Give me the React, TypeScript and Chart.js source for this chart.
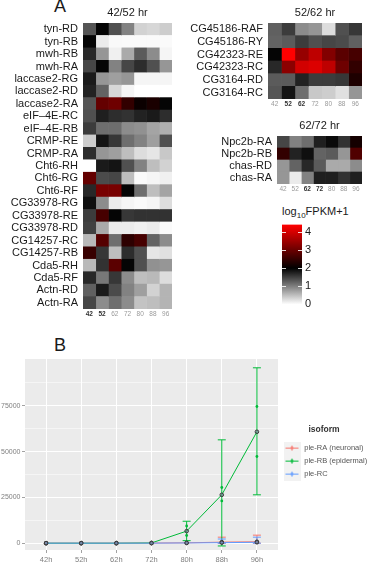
import React, { useEffect, useRef } from 'react';
import { Chart, registerables } from 'chart.js';

Chart.register(...registerables);

const FONT = '"Liberation Sans", Arial, Helvetica, sans-serif';
Chart.defaults.font.family = FONT;

// ---- Panel A: isoform expression heatmaps, log10(FPKM+1) ----
const hours = ['42', '52', '62', '72', '80', '88', '96'];

const rows4252 = [
  'tyn-RD', 'tyn-RB', 'mwh-RB', 'mwh-RA', 'laccase2-RG', 'laccase2-RD', 'laccase2-RA',
  'eIF\u20134E-RC', 'eIF\u20134E-RB', 'CRMP-RE', 'CRMP-RA', 'Cht6-RH', 'Cht6-RG', 'Cht6-RF',
  'CG33978-RG', 'CG33978-RE', 'CG33978-RD', 'CG14257-RC', 'CG14257-RB', 'Cda5-RH', 'Cda5-RF',
  'Actn-RD', 'Actn-RA',
];
const fpkm4252 = [
  [1.33, 1.96, 1.37, 0.98, 0.35, 0.31, 0.39],
  [1.96, 0.16, 0.05, 0.04, 0.04, 0.04, 0.04],
  [1.69, 0.82, 0.12, 0.67, 1.29, 0.9, 0.08],
  [1.45, 1.96, 0.98, 1.45, 1.65, 1.37, 0.82],
  [1.8, 0.82, 0.75, 0.82, 0.08, 0.08, 0.08],
  [1.73, 1.22, 0.31, 0.08, 0, 0, 0],
  [1.33, 2.94, 3.04, 2.47, 2.1, 2.24, 1.96],
  [1.37, 1.76, 1.65, 1.61, 1.73, 1.8, 1.65],
  [1.53, 1.14, 1.14, 0.9, 0.86, 0.71, 0.63],
  [0.39, 1.84, 1.57, 1.14, 0.98, 0.75, 1.37],
  [1.65, 0.82, 0.75, 0.51, 0.27, 0.2, 0.43],
  [0, 1.8, 1.84, 1.37, 0.98, 0.51, 0.35],
  [2.94, 1.41, 1.45, 0.51, 0.04, 0.08, 0.12],
  [1.69, 3.13, 3.13, 1.96, 1.14, 0.51, 0.71],
  [1.88, 0.9, 0.16, 0.08, 0.04, 0.08, 0.27],
  [1.53, 2.66, 1.96, 1.57, 1.61, 1.61, 1.61],
  [1.49, 0.67, 0.16, 0.16, 0.12, 0.16, 0.04],
  [0.55, 2.8, 1.14, 2.42, 2.66, 1.22, 0.9],
  [2.52, 1.57, 0.51, 1.65, 1.37, 0.2, 0.24],
  [0.55, 1.61, 2.85, 1.96, 1.37, 0.86, 0.82],
  [1.69, 1.06, 1.57, 0.9, 0.51, 0.55, 0.27],
  [1.25, 1.8, 1.41, 0.98, 0.75, 0.35, 0.59],
  [1.45, 0.9, 1.14, 0.9, 0.47, 0.51, 0.59],
];

const rows5262 = ['CG45186-RAF', 'CG45186-RY', 'CG42323-RE', 'CG42323-RC', 'CG3164-RD', 'CG3164-RC'];
const fpkm5262 = [
  [1.25, 1.53, 0.9, 0.82, 0.27, 1.37, 1.57],
  [1.22, 1.29, 1.53, 1.37, 1.45, 1.41, 1.25],
  [1.96, 4.4, 3.41, 3.79, 3.22, 2.85, 2.66],
  [1.69, 3.32, 3.98, 4.07, 3.79, 3.04, 2.47],
  [1.29, 1.29, 1.73, 1.53, 1.53, 1.57, 2.28],
  [1.33, 1.84, 1.14, 0.43, 0.39, 0.24, 0.82],
];

const rows6272 = ['Npc2b-RA', 'Npc2b-RB', 'chas-RD', 'chas-RA'];
const fpkm6272 = [
  [1.45, 0.98, 1.14, 1.76, 1.92, 1.61, 2.19],
  [2.47, 1.73, 1.88, 1.22, 1.29, 0.82, 2.75],
  [0.82, 1.22, 1.69, 1.29, 0.67, 0.67, 0.9],
  [0.82, 0.16, 0.98, 1.76, 1.76, 1.61, 1.76],
];

// colour scale: white -> black -> red
const scaleBreaks = [0, 2, 4.4];
const scaleColors = [[255, 255, 255], [0, 0, 0], [255, 0, 0]];
const scaleTicks = [0, 1, 2, 3, 4];

// ---- Panel B: ple isoform expression over time ----
const timeLabels = ['42h', '52h', '62h', '72h', '80h', '88h', '96h'];
const countMajor = [0, 25000, 50000, 75000];
const countMinor = [12500, 37500, 62500, 87500];

const isoformNames = ['ple-RA (neuronal)', 'ple-RB (epidermal)', 'ple-RC'];
const isoformColors = ['#F8766D', '#00BA38', '#619CFF'];

const raMean = [50, 50, 50, 80, 200, 600, 800];
const rbMean = [0, 0, 0, 150, 6600, 26400, 60800];
const rcMean = [50, 50, 50, 50, 150, 300, 500];

const raLow = [null, null, null, null, null, 0, 0];
const raHigh = [null, null, null, null, null, 3300, 4400];
const rbLow = [null, null, null, null, 1400, -1500, 26400];
const rbHigh = [null, null, null, null, 12000, 56400, 95700];
const rcLow = [null, null, null, null, null, 0, 0];
const rcHigh = [null, null, null, null, null, 2300, 3300];

const rbRep1 = [null, null, null, null, 9400, 30400, 74600];
const rbRep2 = [null, null, null, null, 4200, 23100, 47300];

function heatColor(v: number): string {
  let k = 0;
  while (k < scaleBreaks.length - 2 && v > scaleBreaks[k + 1]) k++;
  const a = scaleBreaks[k];
  const b = scaleBreaks[k + 1];
  const t = Math.max(0, Math.min(1, (v - a) / (b - a)));
  const c0 = scaleColors[k];
  const c1 = scaleColors[k + 1];
  const c = c0.map((x, i) => Math.round(x + (c1[i] - x) * t));
  return `rgb(${c[0]},${c[1]},${c[2]})`;
}

function heatmapConfig(title: string, rows: string[], values: number[][], boldCols: number[], labelWidth: number) {
  return {
    type: 'bar',
    data: {
      labels: rows,
      datasets: hours.map((h, j) => ({
        label: h,
        data: rows.map(() => [j, j + 1]),
        backgroundColor: values.map((r) => heatColor(r[j])),
        borderWidth: 0,
        grouped: false,
        barPercentage: 1,
        categoryPercentage: 1,
      })),
    },
    options: {
      indexAxis: 'y',
      animation: false,
      responsive: false,
      devicePixelRatio: 1,
      events: [],
      layout: { padding: 0 },
      plugins: {
        legend: { display: false },
        tooltip: { enabled: false },
        title: {
          display: true,
          text: title,
          fullSize: false,
          color: '#1a1a1a',
          font: { size: 11, weight: 'normal' },
          padding: { top: 6, bottom: 3.8 },
        },
      },
      scales: {
        y: {
          grid: { display: false, drawTicks: false },
          border: { display: false },
          ticks: { autoSkip: false, padding: 5, color: '#1a1a1a', font: { size: 11 } },
          afterFit: (s: any) => { s.width = labelWidth; },
        },
        x: {
          type: 'linear',
          min: 0,
          max: hours.length,
          grid: { display: false, drawTicks: false },
          border: { display: false },
          afterBuildTicks: (s: any) => { s.ticks = hours.map((_, j) => ({ value: j + 0.5 })); },
          ticks: {
            autoSkip: false,
            maxRotation: 0,
            padding: 1,
            callback: (_v: any, i: number) => hours[i],
            color: (c: any) => (boldCols.includes(c.index) ? '#333333' : '#9a9a9a'),
            font: (c: any) => ({ size: 6.5, weight: boldCols.includes(c.index) ? 'bold' : 'normal' }),
          },
          afterFit: (s: any) => { s.height = 12; },
        },
      },
    },
  };
}

function colorbarConfig() {
  const top = scaleBreaks[scaleBreaks.length - 1];
  const tickMarks = {
    id: 'barTicks',
    afterDatasetsDraw(chart: any) {
      const { ctx, chartArea, scales } = chart;
      ctx.save();
      ctx.strokeStyle = 'rgba(255,255,255,0.85)';
      ctx.lineWidth = 1;
      scaleTicks.forEach((v) => {
        const y = Math.round(scales.y.getPixelForValue(v)) + 0.5;
        ctx.beginPath();
        ctx.moveTo(chartArea.left, y);
        ctx.lineTo(chartArea.left + 4, y);
        ctx.moveTo(chartArea.right - 4, y);
        ctx.lineTo(chartArea.right, y);
        ctx.stroke();
      });
      ctx.restore();
    },
  };
  return {
    type: 'bar',
    data: {
      labels: [''],
      datasets: [
        {
          data: [[0, top]],
          borderWidth: 0,
          barPercentage: 1,
          categoryPercentage: 1,
          backgroundColor: (c: any) => {
            const chart = c.chart;
            const ys = chart.scales && chart.scales.y;
            if (!ys || !chart.chartArea) return '#000';
            const y0 = ys.getPixelForValue(0);
            const y1 = ys.getPixelForValue(top);
            const g = chart.ctx.createLinearGradient(0, y0, 0, y1);
            scaleBreaks.forEach((b, i) => {
              const col = scaleColors[i];
              g.addColorStop(b / top, `rgb(${col[0]},${col[1]},${col[2]})`);
            });
            return g;
          },
        },
      ],
    },
    options: {
      animation: false,
      responsive: false,
      devicePixelRatio: 1,
      events: [],
      layout: { padding: { top: 7, bottom: 7, left: 0, right: 0 } },
      plugins: { legend: { display: false }, tooltip: { enabled: false } },
      scales: {
        x: { display: false },
        y: {
          position: 'right',
          min: 0,
          max: top,
          grid: { display: false, drawTicks: false },
          border: { display: false },
          afterBuildTicks: (s: any) => { s.ticks = scaleTicks.map((v) => ({ value: v })); },
          ticks: { padding: 3, color: '#1a1a1a', font: { size: 11 }, callback: (v: any) => String(v) },
          afterFit: (s: any) => { s.width = 20; },
        },
      },
    },
    plugins: [tickMarks],
  };
}

function points(vals: (number | null)[]) {
  return vals.map((y, i) => ({ x: i, y }));
}

function errorBarPoints(low: (number | null)[], high: (number | null)[]) {
  const out: { x: number; y: number | null }[] = [];
  low.forEach((lo, i) => {
    const hi = high[i];
    if (lo === null || hi === null) return;
    out.push({ x: i, y: lo }, { x: i, y: hi }, { x: i, y: null });
  });
  return out;
}

function legendKey(color: string) {
  const c = document.createElement('canvas');
  c.width = 17;
  c.height = 13;
  const g = c.getContext('2d')!;
  g.fillStyle = '#F2F2F2';
  g.fillRect(0, 0, 17, 13);
  g.strokeStyle = color;
  g.lineWidth = 1;
  g.beginPath();
  g.moveTo(2, 6.5);
  g.lineTo(15, 6.5);
  g.moveTo(8.5, 4);
  g.lineTo(8.5, 9);
  g.stroke();
  g.fillStyle = color;
  g.beginPath();
  g.arc(8.5, 6.5, 1.4, 0, Math.PI * 2);
  g.fill();
  return c;
}

function lineConfig() {
  const means = [raMean, rbMean, rcMean];
  const lows = [raLow, rbLow, rcLow];
  const highs = [raHigh, rbHigh, rcHigh];
  const drawOrder = [2, 1, 0];
  const keys = isoformColors.map(legendKey);
  const yTicks = [...countMajor, ...countMinor].sort((a, b) => a - b);
  const isMajor = (v: number) => countMajor.includes(v);

  const panelBg = {
    id: 'panelBg',
    beforeDraw(chart: any) {
      const { ctx, chartArea: a } = chart;
      ctx.save();
      ctx.fillStyle = '#EBEBEB';
      ctx.fillRect(a.left, a.top, a.right - a.left, a.bottom - a.top);
      ctx.restore();
    },
  };

  const datasets: any[] = [];
  means.forEach((m, k) => {
    datasets.push({
      label: isoformNames[k],
      data: points(m),
      borderColor: isoformColors[k],
      borderWidth: 1,
      pointStyle: 'circle',
      pointRadius: 1.8,
      pointBorderColor: '#3a3a3a',
      pointBackgroundColor: 'rgba(120,128,155,0.6)',
      pointBorderWidth: 1,
      order: drawOrder[k],
    });
  });
  means.forEach((_m, k) => {
    datasets.push({
      label: isoformNames[k] + ' sd',
      data: errorBarPoints(lows[k], highs[k]),
      borderColor: isoformColors[k],
      borderWidth: 1,
      pointStyle: 'line',
      pointRadius: 4,
      pointBorderColor: isoformColors[k],
      pointBorderWidth: 1,
      spanGaps: false,
      order: 5 + drawOrder[k],
    });
  });
  [rbRep1, rbRep2].forEach((rep, r) => {
    datasets.push({
      label: 'ple-RB replicate ' + (r + 1),
      data: points(rep),
      showLine: false,
      pointRadius: 1.4,
      pointBackgroundColor: isoformColors[1],
      pointBorderWidth: 0,
      order: 4,
    });
  });

  return {
    type: 'line',
    data: { datasets },
    options: {
      animation: false,
      responsive: false,
      devicePixelRatio: 1,
      events: [],
      layout: { padding: { top: 9, left: 0, right: 0, bottom: 0 } },
      plugins: {
        tooltip: { enabled: false },
        legend: {
          display: true,
          position: 'right',
          align: 'center',
          fullSize: false,
          maxWidth: 92,
          title: {
            display: true,
            text: 'isoform',
            color: '#333333',
            font: { size: 8.5, weight: 'bold' },
            padding: { top: 0, bottom: 3 },
          },
          labels: {
            usePointStyle: true,
            pointStyleWidth: 17,
            padding: 5.5,
            color: '#555555',
            font: { size: 7.5 },
            generateLabels: () =>
              isoformNames.map((name, i) => ({
                text: name,
                pointStyle: keys[i],
                fillStyle: isoformColors[i],
                strokeStyle: isoformColors[i],
                lineWidth: 0,
                hidden: false,
                datasetIndex: i,
                fontColor: '#555555',
              })),
          },
        },
      },
      scales: {
        x: {
          type: 'linear',
          min: -0.6,
          max: timeLabels.length - 0.4,
          afterBuildTicks: (s: any) => { s.ticks = timeLabels.map((_, i) => ({ value: i })); },
          ticks: {
            autoSkip: false,
            maxRotation: 0,
            padding: 2.5,
            color: '#7f7f7f',
            font: { size: 7.5 },
            callback: (_v: any, i: number) => timeLabels[i],
          },
          grid: { color: '#ffffff', lineWidth: 1, tickLength: 3, tickColor: '#8a8a8a', tickWidth: 0.8 },
          border: { display: false },
          afterFit: (s: any) => { s.height = 14; },
        },
        y: {
          min: -3700,
          max: 100500,
          afterBuildTicks: (s: any) => { s.ticks = yTicks.map((v) => ({ value: v })); },
          ticks: {
            autoSkip: false,
            padding: 1.5,
            color: '#7f7f7f',
            font: { size: 7 },
            callback: (v: any) => (isMajor(v) ? String(v) : ''),
          },
          grid: {
            color: '#ffffff',
            lineWidth: (c: any) => (c.tick && isMajor(c.tick.value) ? 1 : 0.5),
            tickLength: 3,
            tickWidth: 0.8,
            tickColor: (c: any) => (c.tick && isMajor(c.tick.value) ? '#8a8a8a' : 'rgba(0,0,0,0)'),
          },
          border: { display: false },
          afterFit: (s: any) => { s.width = 25; },
        },
      },
    },
    plugins: [panelBg],
  };
}

function ChartCanvas(props: { left: number; top: number; width: number; height: number; build: () => any }) {
  const { left, top, width, height, build } = props;
  const ref = useRef<HTMLCanvasElement>(null);
  useEffect(() => {
    const chart = new Chart(ref.current as HTMLCanvasElement, build());
    return () => chart.destroy();
  }, []);
  return (
    <canvas
      ref={ref}
      width={width}
      height={height}
      style={{ position: 'absolute', left, top, width, height }}
    />
  );
}

const panelLetter: React.CSSProperties = {
  position: 'absolute',
  fontFamily: FONT,
  fontSize: 18,
  lineHeight: '18px',
  color: '#1a1a1a',
};

export default function App() {
  return (
    <div
      style={{
        position: 'absolute',
        left: 0,
        top: 0,
        width: 370,
        height: 564,
        overflow: 'hidden',
        background: '#ffffff',
        fontFamily: FONT,
      }}
    >
      <div style={{ ...panelLetter, left: 54, top: -3 }}>A</div>
      <ChartCanvas left={0} top={0} width={172} height={321}
        build={() => heatmapConfig('42/52 hr', rows4252, fpkm4252, [0, 1], 83)} />
      <ChartCanvas left={185} top={0} width={177} height={111}
        build={() => heatmapConfig('52/62 hr', rows5262, fpkm5262, [1, 2], 83)} />
      <ChartCanvas left={185} top={113} width={177} height={83}
        build={() => heatmapConfig('62/72 hr', rows6272, fpkm6272, [2, 3], 92)} />
      <div
        style={{
          position: 'absolute',
          left: 282,
          top: 205,
          fontSize: 11,
          lineHeight: '13px',
          color: '#1a1a1a',
          whiteSpace: 'nowrap',
        }}
      >
        log<sub style={{ fontSize: 8, verticalAlign: '-3px', lineHeight: 0 }}>10</sub>FPKM+1
      </div>
      <ChartCanvas left={282} top={215} width={40} height={99} build={colorbarConfig} />
      <div style={{ ...panelLetter, left: 54, top: 336 }}>B</div>
      <ChartCanvas left={0} top={350} width={370} height={214} build={lineConfig} />
    </div>
  );
}
